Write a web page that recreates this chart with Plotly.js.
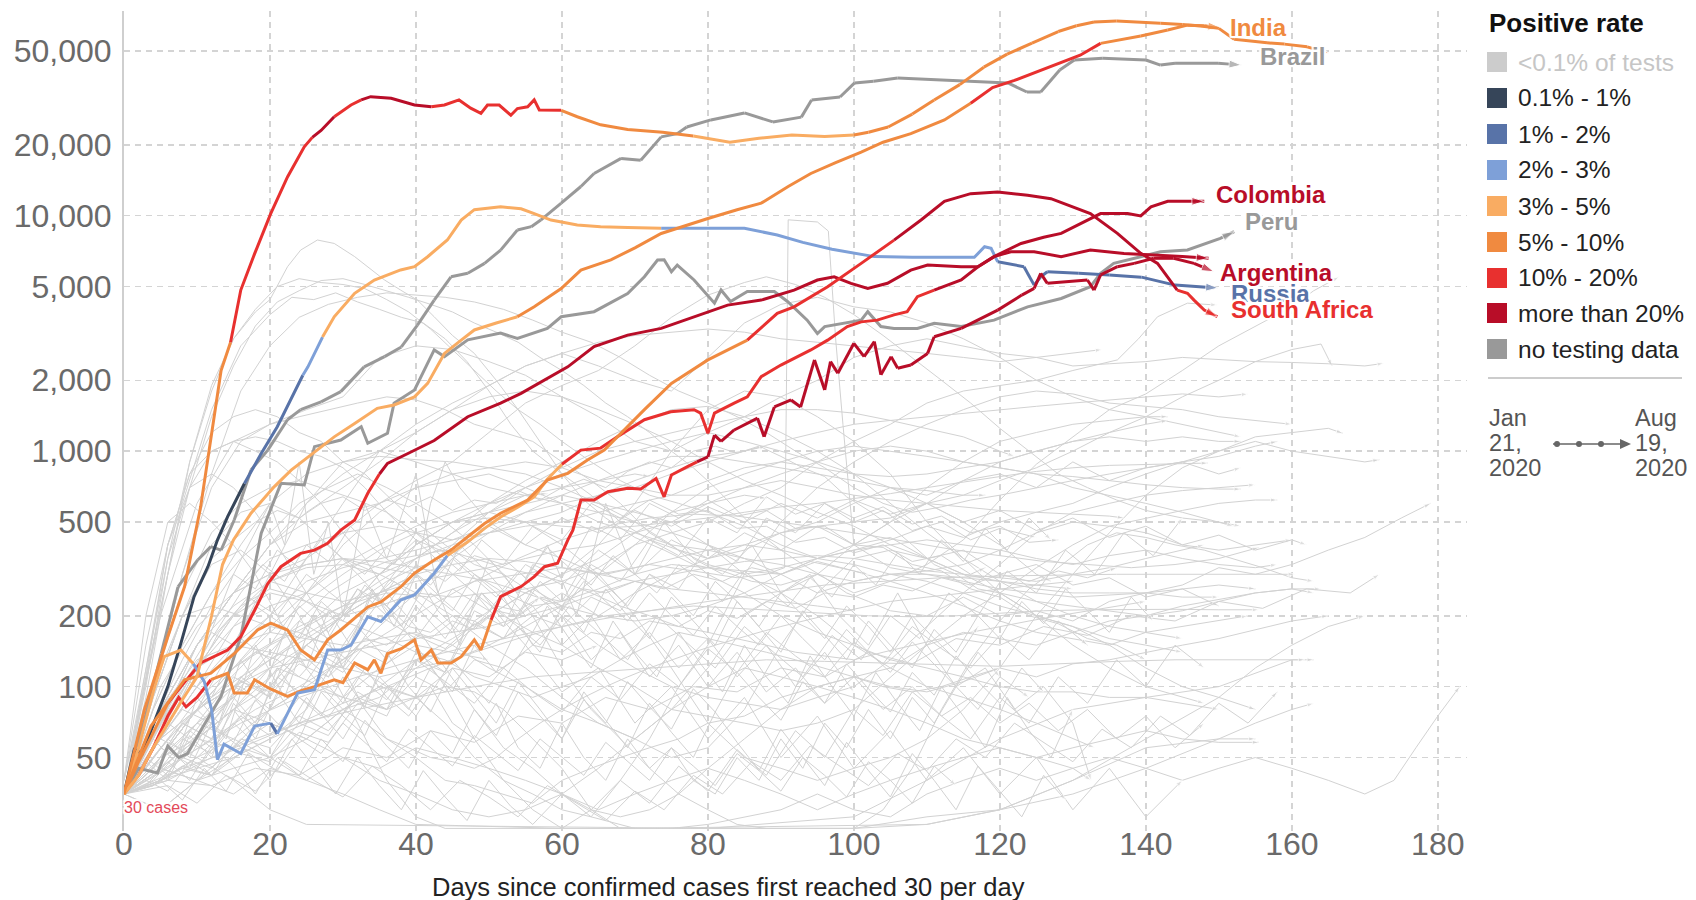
<!DOCTYPE html>
<html>
<head>
<meta charset="utf-8">
<script src="https://cdn.plot.ly/plotly-3.0.1.min.js"></script>
<style>
html,body{margin:0;padding:0;background:#fff;}
#chart{width:1696px;height:900px;}
</style>
</head>
<body>
<div id="chart"></div>
<script>
// ---------------- categories / legend ----------------
const rateCodes  = ['a','b','c','d','e','f','g','h','n'];
const rateLabels = ['&lt;0.1% of tests','0.1% - 1%','1% - 2%','2% - 3%','3% - 5%','5% - 10%','10% - 20%','more than 20%','no testing data'];
const rateColors = ['#cccccc','#364559','#5873a8','#7ea0d8','#f9ac62','#f08a40','#e8302f','#b80d28','#999999'];

const xTickVals = [0,20,40,60,80,100,120,140,160,180];
const yTickVals = [50,100,200,500,1000,2000,5000,10000,20000,50000];
const yTickText = ['50','100','200','500','1,000','2,000','5,000','10,000','20,000','50,000'];

// ---------------- highlighted countries ----------------
const usDays = [0,2.8,6,8.3,10.5,12,13.3,14.6,16,17.9,20.1,22.4,24.7,25.8,27,28.8,31.1,32.5,33.8,36.6,39.8,42.1,43.9,45.9,47.5,48.9,49.8,51.4,53,53.9,55.3,56.2,56.9,59.9,62.1,65.3,69,73.8,78,83,87,91.5,96,100,102,104.7,108,111,114.5,117.8,121,124.4,128,130.5,132.9,136,139.4,142,145,147.5,150,152.1,156.6,159,162.1,165.1];
const usCases = [35,80,163,266,580,1200,2200,2900,4830,6900,10200,14600,19600,21500,23000,26300,29500,31000,32000,31500,29500,29000,29500,31000,28600,27200,29500,29500,26700,28500,29000,31000,28100,28000,26300,24300,23200,22600,21800,20500,21300,22000,21700,22000,22600,23800,27000,31000,36000,42700,48500,54000,60500,64000,66400,67000,66400,65600,64800,63900,62400,56100,54200,53500,52100,48900];
const usRate = [[0,'f'],[14.6,'g'],[25.5,'h'],[28,'g'],[32,'h'],[41,'g'],[61,'f'],[77,'e'],[101,'f']];

const indiaDays = [0,2,4,6,8,10,12,13.5,15,17.4,20.6,22.9,26.1,28.8,31.6,34.7,37,39.8,41.6,43.9,46.2,48,51,53.9,56.2,59.9,62.6,66.7,70,73.6,77,80,84,87.3,91,94.1,97.5,101,104,107.8,112.4,116,119,122,127,131,133.8,136.5,139.3,143,145.7,148,150.2];
const indiaCases = [35,42,55,70,88,110,200,330,420,545,707,831,995,1150,1310,1520,1570,1700,1940,2600,2960,3270,3500,3720,4100,4900,5870,6490,7300,8400,9100,9730,10600,11300,13300,15100,16800,18600,20500,22300,25500,30000,35000,37500,42900,48000,53900,55800,57900,61400,64400,64000,63000];
const indiaRate = [[0,'e'],[53,'f'],[115,'g'],[133,'f']];

const brazilDays = [0,2.8,5.1,7.4,10.1,11.9,13.3,15.1,17.4,19.7,22.4,24.2,27,29.7,32.9,35.7,38,40.2,42.5,44.8,47.1,49.4,51.6,53.9,55.8,57.1,59.9,62.6,64.4,68.1,70.8,73.6,75.8,77.1,80.4,85,88.9,92.8,94.2,98.1,100.1,102.7,106,111.2,117.8,121.1,123.7,125.6,128.2,130.2,134.1,140,142,144,149.9,153.1];
const brazilCases = [35,72,138,265,345,393,380,510,831,1010,1360,1500,1620,1790,2280,2520,2770,3430,4380,5500,5690,6270,7140,8690,8980,9580,11300,13300,15100,17500,17200,21600,22300,23800,25500,27300,25000,26200,31000,31900,36600,37200,38400,37800,37200,36600,33500,33500,41500,45800,46600,45800,43600,44400,44400,43600];
const brazilRate = [[0,'n']];

const peruDays = [0,2,4.6,6,7.5,8.7,10.5,13.3,16,18.8,21.5,24.7,26.1,29.7,32.5,33.4,36.1,37,39.8,42.5,43.9,47.1,51.6,53.9,58,59.9,64.4,69,71.3,73.1,74,75,75.8,78.1,80.9,81.8,83.1,85.4,89.1,90.9,93.6,95,96,101,101.9,103.7,105.5,108.7,111,114.7,119.2,123.8,128.4,132.4,133.8,135.6,139.3,142,145.7,147.5,150.2,152.1];
const peruCases = [35,45,43,56,50,52,65,91,163,448,730,718,1045,1115,1270,1080,1190,1600,1820,2690,2520,2970,3170,3010,3320,3720,3910,4670,5500,6480,6500,5780,6170,5330,4250,4830,4320,4760,4760,4320,3600,3160,3380,3600,3910,3380,3320,3320,3490,3380,3600,4100,4450,4990,5690,6270,6690,7030,7150,7500,8000,8550];
const peruRate = [[0,'n']];

const russiaDays = [0,1.4,2.5,4.2,6,7.8,9.6,11.5,12.8,14.2,16.5,18.8,21,23.3,24.5,25.2,27.2,28.8,31.6,34.3,37.9,39.8,41.6,44.3,46.2,48,51.6,54.4,56.2,58.5,62.1,65.3,69,73.6,80,85,89.5,93,97,100,102.8,108,114.7,116.5,117.9,118.8,119.7,123.3,124.7,125.6,126.5,128.4,130.8,135,139.4,144,147,149.9];
const russiaCases = [35,54,52,72,100,153,241,323,419,527,729,977,1270,1760,2100,2280,3050,3720,4680,5330,5880,6070,6690,7880,9580,10600,10900,10700,10200,9580,9120,8980,8900,8850,8850,8830,8280,7700,7200,6920,6700,6650,6620,6650,7380,7260,6370,6070,5070,5500,5780,5750,5700,5600,5480,5070,5000,4930];
const russiaRate = [[0,'b'],[15.5,'c'],[24,'d'],[28,'e'],[72,'d'],[119.5,'c']];

const mexicoDays = [0,2,3.7,6,7.8,10.5,14.2,16,17.9,19.7,21.5,24.2,26.1,27.9,29.7,31.6,33.4,35,36.1,38.9,42.5,47.1,51.6,54.4,58.5,60.8,64.4,69,73.6,78.1,82.7,87.3,91.8,95,97.3,99.6,101.9,104.6,107.8,110.1,114.7,117,119.2,121.5,124.7,128.4,132.4,137,142,145,148.6];
const mexicoCases = [35,48,61,85,100,126,143,163,211,274,323,368,380,406,462,510,662,800,887,977,1110,1400,1600,1760,2070,2280,2780,3110,3320,3720,4170,4380,4830,5330,5500,5160,4910,5160,5870,6170,6070,6070,6700,7030,7030,6700,7150,6900,6800,6700,6600];
const mexicoRate = [[0,'f'],[5,'g'],[34.5,'h']];

const southAfricaDays = [0,3.7,8.3,11.9,15.1,18.3,20.1,22.4,24.2,26.1,27.9,29.7,33.4,35.2,37.9,39.8,42.5,44.8,47.1,49.4,51.6,55.3,58,60.8,63.5,65.8,71.3,75,80,85.4,89.5,91.8,96.4,101,105.5,109.2,112.4,116,119.7,123.8,127,132.4,136.1,139.3,141.6,142.9,144.3,145.7,146.6,148,149.8];
const southAfricaCases = [35,68,107,114,138,174,186,174,143,130,158,174,218,229,265,303,345,380,433,493,545,620,753,805,917,1010,1500,1940,2440,2960,3850,4100,4990,6270,7870,9580,11500,12400,12600,12200,11800,10200,8410,6920,6270,5500,4830,4680,4380,3970,3720];
const southAfricaRate = [[0,'f'],[84,'g'],[107,'h'],[145,'g']];

const colombiaDays = [0,2,4,5.5,7.8,9.5,11,12,12.8,13.7,16,17.9,20.1,21,23.8,26.1,27.9,29.7,31.1,33.4,35.2,37.9,39.8,42.5,44.3,47,49.4,51.6,54,56.2,58,60,62.6,65.3,67.6,71.3,74.9,78.1,79,80,80.9,83.6,85.4,87.3,90,94.1,96.4,99.1,101,103.2,105.5,107.3,108.7,111,114.7,117,119.2,122.9,126,128.4,131,133.8,137.5,139.3,140.7,143,148];
const colombiaCases = [35,55,95,134,143,125,105,80,49,57,52,68,70,63,94,97,143,143,150,198,189,233,245,303,360,410,470,525,580,640,760,880,1010,1030,1150,1360,1470,1500,1450,1190,1450,1600,1700,2070,2320,2690,2960,3380,3540,3600,3790,3910,4530,4830,5330,6070,6700,7620,8100,8410,9200,10200,10200,9970,10900,11500,11500];
const colombiaRate = [[0,'e'],[10,'d'],[19.5,'c'],[22,'d'],[44.5,'e'],[61,'g'],[110,'h']];

const argentinaDays = [0,2,4,6,7.5,8.5,10,11.9,13,14.2,15.1,16.9,17.9,20,22.4,24.2,26.1,28.8,30,31.6,33.4,34.3,35.2,36.1,38,39.8,40.7,42.1,43,44.8,46.2,48,48.9,50.3,51.6,54.4,56.2,57.6,59.4,60.8,61.5,62.6,64.4,66.3,69,70.8,72.9,74,75,77.2,78.5,80,80.9,81.8,83.6,86.8,87.7,89.1,91.4,92.7,94.6,96,96.8,97.8,100,101.4,102.8,103.7,105.1,106,107.8,110.1,111,114.7,119.7,123,124.7,125.6,126.5,130,132,132.9,133.8,136.1,138.4,141.1,143.8,146.6,149.3];
const argentinaCases = [35,42,55,75,90,82,90,107,110,114,94,94,107,98,91,96,100,107,104,126,118,130,114,138,145,158,130,143,126,126,134,158,143,192,241,266,293,323,334,419,462,620,620,672,695,690,766,640,792,859,900,946,1170,1100,1230,1380,1150,1540,1650,1540,2440,1820,2400,2140,2870,2520,2920,2110,2520,2250,2320,2600,3060,3320,3970,4600,4910,5690,5160,5250,5330,4830,5600,6070,6270,6590,6590,6270,5780];
const argentinaRate = [[0,'f'],[3,'g'],[11,'f'],[50,'g'],[78,'h']];

// ---------------- other countries (background, grey) ----------------
const bg01 = [[0,36],[3,90],[6,300],[9,900],[12,1900],[15,3000],[18,3900],[20,4400],[22.4,6070],[24.2,7140],[26.5,7880],[28.8,7620],[31.6,6700],[33.4,6070],[35.7,5330],[37.9,4830],[40.2,4380],[42.5,3720],[45,3100],[48,2600],[51,2000],[54,1500],[57,1100],[60,800],[63,620],[66,520],[70,430],[74,380],[78,330],[82,310],[86,280],[90,270],[95,300],[100,250],[105,280],[110,330],[115,420],[120,620],[125,880],[130,1150],[135,1500],[140,1750],[145,2200],[150,2800],[155,3400],[160,4100],[163,4800],[166.5,5500]];
const bg02 = [[0,40],[3,110],[6,300],[9,700],[12,1400],[15,2300],[18,3400],[21,4300],[24,4800],[27,5300],[30,5400],[33,5100],[36,4800],[39,4500],[42,4200],[45,3900],[48,3500],[51,3200],[54,2900],[57,2500],[60,2200],[63,1900],[66,1600],[69,1400],[72,1200],[75,1000],[78,850],[81,700],[84,560],[87,450],[90,380],[93,330],[96,290],[99,250],[102,230],[105,210],[110,200],[115,240],[120,200],[125,210],[130,190],[135,230],[140,250],[145,270],[150,320],[155,300],[160,330],[165,380],[170,430],[175,520],[179,600]];
const bg03 = [[0,35],[3,100],[6,350],[9,900],[12,1800],[15,3000],[18,4000],[21,5000],[24,5400],[27,5200],[30,5100],[33,4900],[36,4400],[39,3900],[42,3300],[45,2700],[48,2200],[51,1800],[54,1500],[57,1300],[60,1100],[64,900],[68,750],[72,650],[76,600],[80,550],[85,480],[90,400],[95,350],[100,380],[105,420],[110,480],[115,430],[120,500],[125,550],[130,600],[135,700],[140,800],[145,900],[150,1000],[155,1150],[160,1200],[165,1250],[167,1190]];
const bg04 = [[0,35],[4,150],[8,600],[12,1500],[16,2800],[20,3800],[23,4500],[26,4400],[29,4700],[32,4300],[35,4000],[38,3700],[41,3500],[44,3000],[47,2400],[50,1800],[53,1300],[56,1000],[60,800],[64,650],[68,500],[72,420],[76,380],[80,350],[85,380],[90,450],[95,480],[100,500],[105,520],[110,600],[115,650],[120,750],[125,850],[130,1000],[135,1200],[140,1400],[145,1700],[150,2000],[155,2400],[160,2700],[164,2850],[165.5,2300]];
const bg05 = [[0,35],[4,100],[8,300],[12,800],[16,1800],[20,2800],[24,3700],[28,4200],[32,4500],[36,4700],[40,4600],[44,4500],[48,4300],[52,4000],[56,3600],[60,3200],[64,2900],[68,2500],[72,2100],[76,1800],[80,1600],[84,1400],[88,1200],[92,1000],[96,850],[100,700],[104,600],[108,550],[112,580],[116,620],[120,650],[125,700],[130,750],[135,800],[140,850],[145,900],[150,950],[155,1050],[158,1100]];
const bg06 = [[0,40],[5,200],[10,600],[15,1100],[20,1300],[25,1500],[30,1700],[35,2500],[40,2800],[45,2700],[50,2400],[55,2100],[60,1700],[65,1400],[70,1100],[75,1000],[80,1200],[85,1400],[90,1700],[95,2000],[100,2500],[105,2800],[110,3000],[115,2800],[120,2600],[125,2500],[130,2300],[135,2350],[140,2400],[145,2500],[150,2450],[155,2400],[160,2380],[165,2350],[170,2300],[172.6,2360]];
const bg07 = [[0,35],[5,80],[10,120],[15,150],[20,200],[25,350],[30,600],[35,1000],[40,1300],[45,1600],[50,1900],[55,2300],[60,2600],[65,2300],[70,2000],[75,1800],[80,2500],[85,3500],[90,4200],[95,4500],[100,4100],[105,3900],[110,3500],[115,3000],[120,2500],[125,2000],[130,1700],[135,1500],[140,1400],[145,1300],[150,1200],[153,1150]];
const bg08 = [[0,35],[5,100],[10,180],[15,250],[20,300],[25,350],[30,450],[35,600],[40,750],[45,900],[50,1200],[55,1600],[60,1900],[65,2200],[70,2800],[75,3700],[80,4600],[85,5200],[88,5500],[92,5100],[96,4500],[100,3800],[104,3100],[108,2500],[112,2000],[116,1600],[120,1250],[124,1000],[128,800],[132,700],[136,620],[140,560],[145,520],[150,500],[153,480]];
const bg09 = [[0,35],[6,60],[12,90],[18,140],[24,180],[30,220],[36,250],[42,240],[48,280],[54,300],[60,320],[66,300],[72,330],[78,310],[84,290],[88,300],[90.5,320],[91,9600],[95,9400],[96.5,8600],[97.5,3000],[98.5,1300],[100,400],[105,320],[110,300],[115,280],[120,260],[130,240],[140,250],[150,270],[155,260]];
const bg10 = [[0,40],[3,120],[6,350],[9,700],[12,1000],[15,1100],[18,1150],[21,1100],[24,1000],[27,950],[30,850],[33,700],[36,550],[40,420],[44,320],[48,250],[52,200],[56,170],[60,150],[65,120],[70,100],[75,80],[80,75],[85,70],[90,65],[95,70],[100,80],[105,110],[110,150],[115,200],[120,250],[125,320],[130,400],[135,480],[140,520],[145,560],[150,600],[155,620],[158,620]];
const bg11 = [[0,40],[3,150],[6,400],[9,800],[12,1200],[15,1400],[18,1500],[21,1400],[24,1200],[27,1100],[30,900],[33,800],[36,650],[40,500],[44,400],[48,330],[52,300],[56,250],[60,200],[65,150],[70,120],[75,100],[80,90],[85,85],[90,80],[95,90],[100,100],[105,130],[110,180],[115,250],[120,330],[125,450],[130,500],[135,480],[140,450],[145,400],[150,380],[155,400],[160,420]];
const bg12 = [[0,35],[4,100],[8,300],[12,700],[16,1100],[20,1300],[24,1400],[28,1500],[32,1600],[36,1700],[40,1650],[44,1500],[48,1300],[52,1200],[56,1100],[60,900],[64,750],[68,600],[72,450],[76,380],[80,330],[85,300],[90,320],[95,350],[100,380],[105,400],[110,420],[115,400],[120,380],[125,350],[130,330],[135,360],[140,380],[145,350],[150,330],[155,320],[158,330]];
const bg13 = [[0,35],[3,110],[6,400],[9,800],[12,1000],[15,1100],[18,1000],[21,900],[24,750],[27,600],[30,450],[33,350],[36,250],[40,180],[44,120],[48,80],[52,55],[56,45],[60,35],[64,30],[68,28],[72,30],[76,35],[80,45],[85,60],[90,80],[95,100],[100,110],[105,120],[110,150],[115,170],[120,160],[125,150],[130,170],[135,190],[140,200],[145,210],[150,230],[155,250],[160,260],[164,260]];
const bg14 = [[0,35],[3,120],[6,400],[9,700],[12,800],[15,700],[18,550],[21,400],[24,280],[27,200],[30,120],[33,80],[36,60],[40,50],[44,40],[48,38],[52,35],[56,32],[60,40],[64,45],[68,50],[72,55],[76,60],[80,70],[85,75],[90,90],[95,100],[100,110],[105,100],[110,95],[115,105],[120,120],[125,110],[130,125],[135,130],[140,140],[145,150],[150,160],[155,175],[160,190],[165,200]];
const bg15 = [[0,35],[4,90],[8,200],[12,350],[15,420],[18,500],[21,560],[24,520],[27,600],[30,640],[33,560],[36,620],[39,580],[42,640],[45,560],[48,620],[51,600],[54,680],[57,620],[60,700],[63,760],[66,700],[69,820],[72,900],[75,850],[78,1000],[81,1050],[84,980],[87,1050],[90,950],[93,850],[96,780],[99,640],[102,560],[105,480],[108,400],[111,330],[114,300],[117,260],[120,250],[125,230],[130,220],[135,210],[140,200],[145,220],[150,235],[155,250],[160,260],[163,250]];
const bg16 = [[0,35],[4,100],[8,250],[12,450],[16,600],[20,700],[24,750],[28,680],[32,620],[36,550],[40,450],[44,380],[48,300],[52,250],[56,220],[60,230],[65,260],[70,300],[75,330],[80,320],[85,310],[90,300],[95,340],[100,310],[105,280],[110,250],[115,220],[120,190],[125,170],[130,160],[135,150],[140,170],[145,180],[150,190],[154,200]];
const bg17 = [[0,35],[4,90],[8,200],[12,400],[16,550],[20,600],[24,520],[28,400],[32,300],[36,220],[40,150],[44,100],[48,60],[52,40],[56,30],[60,25],[64,30],[68,40],[72,60],[76,100],[80,150],[85,300],[90,500],[95,700],[100,900],[105,1100],[110,1300],[115,1500],[120,1700],[125,1800],[130,1750],[135,1600],[140,1550],[145,1500],[150,1400],[155,1350],[160,1300]];
const bg18 = [[0,35],[4,80],[8,150],[12,250],[16,350],[20,450],[24,600],[28,700],[32,800],[36,700],[40,600],[44,500],[48,400],[52,300],[56,200],[60,120],[64,80],[68,60],[72,45],[76,35],[80,30],[84,26],[88,25],[100,25],[110,26],[120,30],[130,40],[140,55],[150,60],[155,60]];
const bg19 = [[0,35],[5,45],[10,40],[15,50],[20,60],[25,80],[30,150],[35,250],[40,400],[45,500],[50,550],[55,500],[60,400],[65,300],[70,200],[75,120],[80,70],[85,50],[90,45],[95,40],[100,45],[105,50],[110,60],[115,80],[120,120],[125,200],[130,300],[135,450],[140,650],[145,850],[150,1000],[155,1100],[160,1000],[165,950],[170,900],[172,920]];
const bg20 = [[0,40],[3,200],[6,500],[9,600],[12,500],[15,400],[18,300],[21,200],[24,130],[27,100],[30,90],[33,85],[36,80],[40,90],[44,100],[48,95],[52,80],[56,60],[60,45],[64,30],[68,25],[75,25],[80,26],[90,30],[95,35],[100,30],[105,28],[110,35],[115,40],[120,45],[125,40],[130,45],[135,50],[140,45],[145,40],[150,45],[155,50],[160,45],[165,40],[170,35],[174,40],[177,55],[180,75],[183,100]];
const bg21 = [[0,35],[4,90],[8,200],[12,330],[16,380],[20,300],[24,200],[28,120],[32,70],[36,40],[40,28],[44,25],[100,25],[104,30],[108,45],[112,80],[116,130],[120,190],[124,260],[128,320],[132,400],[136,450],[140,430],[144,400],[148,380],[152,350],[156,320],[160,290],[163,280]];
const bg22 = [[0,35],[4,100],[8,200],[12,220],[16,200],[20,180],[24,170],[28,150],[32,120],[36,100],[40,90],[44,70],[48,50],[52,40],[56,35],[60,30],[64,28],[70,25],[110,26],[120,30],[130,35],[140,45],[150,60],[155,70],[160,80],[163,85]];
const bg23 = [[0,35],[5,60],[10,120],[15,200],[20,280],[25,330],[30,350],[35,320],[40,300],[45,330],[50,350],[55,340],[60,320],[65,300],[70,320],[75,350],[80,380],[85,400],[90,380],[95,350],[100,330],[105,300],[110,310],[115,330],[120,380],[125,450],[130,550],[135,600],[140,650],[145,680],[150,700],[155,720]];
const bg24 = [[0,35],[5,70],[10,150],[15,250],[20,350],[25,400],[30,450],[35,480],[40,450],[45,420],[50,450],[55,480],[60,500],[65,550],[70,600],[75,650],[80,750],[85,850],[90,900],[95,850],[100,800],[105,780],[110,800],[115,850],[120,900],[125,1000],[130,1100],[135,1200],[140,1300],[143,1350]];
const bg25 = [[0,35],[5,60],[10,100],[15,140],[20,200],[25,280],[30,320],[35,350],[40,380],[45,420],[50,480],[55,550],[60,600],[65,650],[70,700],[75,800],[80,900],[85,1000],[90,1100],[95,1200],[100,1300],[105,1350],[110,1400],[115,1450],[120,1500],[125,1550],[130,1600],[135,1650],[140,1700],[145,1750],[150,1700],[154,1750]];
const bg26 = [[0,35],[5,70],[10,120],[15,200],[20,250],[25,230],[30,200],[35,220],[40,250],[45,240],[50,250],[55,260],[60,280],[65,320],[70,400],[75,450],[80,500],[85,600],[90,700],[95,900],[100,1100],[105,1300],[110,1600],[115,1800],[120,1900],[125,2000],[130,2200],[136.1,2440],[139,3000],[141.6,3720],[145.7,4250],[149.8,4170]];
const bg27 = [[0,35],[5,80],[10,150],[15,250],[20,400],[25,550],[30,700],[35,900],[40,1200],[45,1500],[50,1900],[55,2300],[60,2600],[65,2900],[70,3100],[75,3200],[80,3300],[85,3200],[90,3000],[95,2900],[100,2800],[105,2700],[110,2600],[115,2500],[120,2400],[125,2500],[130,2600],[134,2700]];
const bg28 = [[0,35],[5,50],[10,80],[15,120],[20,150],[25,180],[30,220],[35,280],[40,350],[45,450],[50,600],[55,750],[60,900],[65,1100],[70,1300],[75,1500],[80,1550],[85,1400],[90,1200],[95,1000],[100,800],[105,600],[110,450],[115,350],[120,280],[125,230],[130,200],[135,180],[140,170],[145,160]];
const bg29 = [[0,35],[5,80],[10,150],[15,250],[20,400],[25,600],[30,800],[35,1000],[40,1200],[45,1500],[50,1700],[55,1800],[60,1700],[65,1500],[70,1300],[75,1100],[80,900],[85,750],[90,650],[95,550],[100,480],[105,400],[110,350],[115,300],[120,280],[125,270],[130,260]];
const bg30 = [[0,35],[4,80],[8,150],[12,250],[16,400],[20,600],[22,400],[24,900],[26,300],[28,500],[30,200],[33,600],[36,350],[40,800],[43,250],[46,400],[50,300],[55,200],[60,250],[65,200],[70,250],[75,300],[80,350],[85,400],[90,450],[95,500],[100,600],[105,700],[110,650],[115,750],[120,800],[125,700],[130,900],[135,750],[140,850],[145,900],[150,800],[153,850]];
const bg31 = [[0,35],[5,70],[10,120],[15,180],[20,220],[25,250],[30,230],[35,250],[40,280],[45,300],[50,320],[55,350],[60,380],[65,400],[70,450],[75,500],[80,600],[85,700],[90,800],[95,900],[100,1000],[105,1050],[110,1000],[115,900],[120,850],[125,800],[130,700],[135,650],[140,600],[145,550],[150,500],[152,480]];
const bg32 = [[0,35],[5,80],[10,130],[15,150],[20,140],[25,130],[30,120],[35,110],[40,120],[45,130],[50,150],[55,180],[60,220],[65,300],[70,400],[75,550],[80,700],[85,800],[90,900],[95,1000],[100,1050],[105,1000],[110,950],[115,900],[120,850],[125,800],[130,780],[135,750],[140,720],[145,700],[150,690],[153,690]];
const bg33 = [[0,35],[5,45],[10,60],[15,80],[20,110],[25,150],[30,200],[35,250],[40,300],[45,400],[50,550],[55,700],[60,850],[65,1000],[70,1100],[75,1200],[80,1300],[85,1400],[90,1500],[95,1500],[100,1450],[105,1350],[110,1250],[115,1150],[120,1000],[122,950]];
const bg34 = [[0,35],[5,40],[10,50],[15,60],[20,80],[25,100],[30,130],[35,180],[40,250],[45,350],[50,450],[55,550],[60,650],[65,750],[70,850],[75,950],[80,950],[85,900],[90,850],[95,800],[100,750],[105,700],[110,680],[115,650],[118,650]];
const bg35 = [[0,35],[4,38],[8,45],[12,42],[16,55],[20,50],[24,70],[28,62],[32,95],[36,80],[40,140],[44,115],[48,190],[52,160],[56,260],[60,220],[64,330],[68,280],[72,420],[76,360],[80,520],[84,450],[88,640],[92,540],[96,600],[100,500],[104,560],[108,460],[112,500],[116,420],[120,470],[125,430]];
const bg36 = [[0,35],[5,40],[10,45],[15,50],[20,60],[25,70],[30,80],[35,90],[40,120],[45,150],[50,200],[55,250],[60,300],[65,400],[70,600],[75,1000],[80,1500],[85,1800],[90,1700],[95,1400],[100,1100],[105,800],[110,500],[115,350],[120,250],[125,200],[130,180],[135,160],[140,150],[145,140]];
const bg37 = [[0,35],[5,80],[10,150],[15,250],[20,300],[25,330],[30,350],[35,340],[40,320],[45,300],[50,280],[55,250],[60,220],[65,200],[70,190],[75,200],[80,220],[85,250],[90,300],[95,350],[100,400],[105,500],[110,600],[115,750],[120,900],[125,1000],[130,1100],[135,1150],[140,1100],[145,1150],[150,1100],[153,1100]];
const bg38 = [[0,35],[5,70],[10,150],[15,220],[20,280],[25,320],[30,330],[35,300],[40,250],[45,200],[50,150],[55,120],[60,90],[65,70],[70,60],[75,50],[80,55],[85,80],[90,150],[95,250],[100,350],[105,380],[110,350],[115,300],[120,250],[125,200],[130,150],[135,120],[140,100],[145,90],[148,85]];
const bg39 = [[0,35],[5,60],[10,100],[15,150],[20,170],[25,160],[30,150],[35,160],[40,170],[45,150],[50,120],[55,100],[60,80],[65,70],[70,60],[75,80],[80,120],[85,200],[90,250],[95,300],[100,400],[105,500],[110,700],[115,900],[120,1100],[125,1200],[130,1300],[135,1350],[140,1400],[143,1400]];
const bg40 = [[0,35],[4,55],[8,80],[12,70],[16,105],[20,95],[24,125],[28,110],[32,145],[36,125],[40,165],[44,145],[48,185],[52,160],[56,200],[60,180],[64,240],[68,210],[72,300],[76,260],[80,400],[84,340],[88,520],[92,450],[96,600],[100,520],[104,580],[108,490],[112,530],[116,450],[120,480],[124,410],[128,420]];
const bg41 = [[0,35],[4,45],[8,70],[12,60],[16,110],[20,90],[24,190],[28,160],[32,260],[36,220],[40,330],[44,280],[48,360],[52,330],[56,480],[60,420],[64,600],[68,520],[72,620],[76,540],[80,560],[84,470],[88,480],[92,410],[96,430],[100,370],[104,400],[108,340],[112,360],[116,300],[118,320]];
const bg42 = [[0,35],[5,50],[10,80],[14,60],[18,150],[22,90],[26,200],[30,120],[34,250],[38,180],[42,300],[46,150],[50,350],[54,250],[58,400],[62,200],[66,600],[70,300],[74,500],[78,350],[82,300],[86,400],[90,250],[94,300],[98,200],[102,150],[106,250],[110,150],[114,100],[118,120],[122,80],[126,100],[130,70],[132.5,40]];
const bg43 = [[0,35],[5,30],[10,40],[15,45],[20,50],[25,60],[30,80],[35,100],[40,130],[45,160],[50,200],[55,250],[60,300],[65,350],[70,450],[75,550],[80,600],[85,650],[88,630]];
const bg44 = [[0,35],[5,50],[10,70],[15,90],[20,120],[25,150],[30,200],[35,250],[40,350],[45,450],[50,550],[55,650],[60,700],[65,750],[70,800],[72,780]];
const bg45 = [[0,35],[5,50],[10,60],[15,80],[20,120],[25,180],[30,250],[35,300],[40,350],[45,400],[50,450],[55,500],[60,550],[65,650],[70,750],[75,850],[80,950],[85,1000],[88,1050]];
const bg46 = [[0,35],[5,50],[10,80],[15,120],[20,180],[25,250],[30,330],[35,400],[40,480],[45,550],[50,600],[55,650],[58,660]];
const bg47 = [[0,35],[5,50],[10,80],[15,100],[20,130],[25,160],[30,200],[35,250],[40,300],[42,600],[44,900],[46,700],[50,500],[55,400],[60,350],[65,300],[70,280],[75,260],[80,250],[85,240],[90,230],[95,220],[100,210]];
const bg48 = [[0,35],[5,60],[10,120],[15,300],[20,600],[25,800],[30,900],[35,950],[40,920],[45,900],[50,850],[55,800],[60,700],[65,600],[70,500],[75,400],[80,300],[85,250],[90,200],[95,170],[100,150],[105,130],[110,120],[115,110],[120,100],[125,95],[130,95],[135,90],[140,90],[145,85],[150,80]];
const bg49 = [[0,35],[5,50],[10,80],[15,150],[20,300],[25,600],[30,900],[35,1000],[40,900],[45,800],[50,700],[55,650],[60,600],[65,550],[70,500],[75,450],[80,400],[85,350],[90,300],[95,250],[100,280],[105,300],[110,280],[115,250],[120,220],[125,200],[130,180],[135,150],[140,120],[145,100],[150,90],[155,80]];
const bg50 = [[0,35],[5,60],[10,80],[15,100],[20,150],[25,250],[30,400],[35,550],[40,700],[45,800],[50,850],[55,900],[60,850],[65,750],[70,700],[75,650],[80,650],[85,700],[90,750],[95,700],[100,650],[105,620],[110,600],[115,580],[120,560],[125,550],[130,540],[135,530],[137,520]];
const bg51 = [[0,35],[5,80],[10,150],[15,250],[20,400],[25,500],[30,550],[35,600],[40,700],[45,750],[50,800],[55,700],[60,600],[65,500],[70,450],[75,400],[80,380],[85,350],[90,330],[95,300],[100,280],[105,300],[110,300],[115,290],[120,280],[125,260],[130,250],[135,250],[140,250],[145,240],[150,240]];
const bg52 = [[0,35],[5,45],[10,60],[15,80],[20,100],[25,150],[30,200],[35,300],[40,400],[45,500],[50,600],[55,700],[60,800],[65,900],[70,1000],[75,1100],[80,1200],[85,1100],[90,1000],[95,900],[100,800],[105,700],[110,600],[115,500],[120,400],[125,300],[127,280]];
const bg53 = [[0,35],[4,38],[8,46],[12,42],[16,52],[20,48],[24,64],[28,58],[32,85],[36,75],[40,130],[44,115],[48,210],[52,180],[56,330],[60,290],[64,480],[68,420],[72,600],[76,520],[80,620],[84,530],[88,560],[92,470],[96,480],[100,400],[104,390],[108,330],[112,310],[116,260],[120,240],[124,200],[128,185],[132,160],[136,150],[140,130]];
const bg54 = [[0,35],[5,60],[10,80],[15,100],[20,120],[25,130],[30,140],[35,150],[40,160],[45,170],[50,180],[55,200],[60,220],[65,250],[70,280],[75,300],[80,320],[85,340],[90,350],[95,360],[100,350],[105,330],[110,310],[115,300],[120,290],[125,280],[130,300],[135,320],[140,350],[145,380],[148,400]];
const bg55 = [[0,35],[5,40],[10,50],[15,70],[20,100],[25,150],[30,200],[35,300],[40,400],[45,500],[50,550],[55,600],[60,650],[65,600],[70,550],[75,500],[80,400],[85,300],[90,250],[95,200],[100,150],[105,120],[110,100],[115,90],[120,80],[125,70],[130,60],[133,55]];
const bg56 = [[0,35],[4,50],[8,70],[12,90],[16,110],[20,130],[24,160],[28,190],[32,230],[36,280],[40,320],[44,350]];
const bg57 = [[0,35],[5,40],[10,60],[15,55],[20,80],[25,100],[30,90],[35,120],[40,150],[45,140],[50,130]];
const bg58 = [[0,35],[5,45],[10,40],[15,55],[20,70],[25,60],[30,80],[35,100],[40,90],[45,120],[50,110],[55,140],[60,130],[65,150]];
const bg59 = [[0,35],[5,30],[10,40],[15,35],[20,45],[25,40],[30,50],[35,45],[40,55],[45,50],[50,45],[55,40],[60,35],[65,30],[70,35],[75,40],[80,45],[85,40],[90,35],[95,30],[100,35],[105,40],[110,45],[115,50],[120,55],[125,50],[130,45],[132.5,40]];
const bg60 = [[0,35],[5,45],[10,60],[15,80],[20,70],[25,60],[30,50],[35,40],[40,35],[45,30],[50,28],[55,30],[60,35],[65,45],[70,60],[75,80],[80,100],[85,120],[90,110],[95,100],[100,90],[105,80],[110,70],[115,60],[120,55],[125,50],[130,55],[135,60],[140,65],[145,60],[150,58],[155.5,58]];
const bg61 = [[0,35],[5,50],[10,70],[15,60],[20,50],[25,40],[30,35],[35,30],[40,26],[60,25],[100,25],[110,28],[120,30],[130,40],[140,60],[150,90],[155,120],[160,150],[165,180],[170,200]];
const bg62 = [[0,35],[5,60],[10,50],[15,40],[20,30],[25,26],[80,25],[100,28],[110,40],[120,60],[130,80],[140,90],[150,100],[160,130],[163,130]];
const bg63 = [[0,35],[3,50],[6,70],[9,60],[12,80],[15,100],[18,90],[21,120],[24,110],[27,140],[30,130],[33,160],[36,150],[39,180],[42,170],[45,200],[48,190],[51,220],[54,210],[57,240],[60,230],[63,260],[66,250],[70,280],[74,260],[78,300],[82,280],[86,320],[90,300],[94,340],[98,320],[102,300]];
const bg64 = [[0,35],[4,60],[8,100],[12,160],[16,220],[20,260],[24,240],[28,200],[32,180],[36,160],[40,140],[44,130],[48,110],[52,100],[56,90],[60,100],[64,110],[68,130],[72,150],[76,170],[80,160],[84,150],[88,140],[92,130],[96,120],[100,110],[104,100],[108,95],[112,100],[116,110],[120,120]];
const bg65 = [[0,35],[4,40],[8,55],[12,70],[16,100],[20,140],[24,190],[28,250],[32,300],[36,340],[40,360],[44,380],[48,350],[52,320],[56,300],[60,280],[64,250],[68,220],[72,200],[76,180],[80,170],[84,160],[88,150],[92,140],[96,135],[100,130],[104,140],[108,150],[112,160],[116,170],[120,180],[124,190],[128,200],[132,210],[136,220],[140,230]];
const bg66 = [[0,35],[3,45],[6,60],[9,80],[12,100],[15,120],[18,140],[21,130],[24,110],[27,100],[30,80],[33,70],[36,60],[39,55],[42,50],[45,48],[48,45],[51,50],[54,60],[57,70],[60,80],[63,90],[66,100],[69,110],[72,120],[75,130],[78,140],[81,150],[84,160],[87,170],[90,180],[93,190],[96,200],[99,210],[102,220],[105,230],[110,240],[115,250],[120,260],[125,270],[130,280]];
const bg67 = [[0,35],[5,50],[10,80],[15,120],[20,170],[25,230],[30,300],[35,380],[40,450],[45,500],[50,520],[55,500],[60,480],[65,470],[70,480],[75,500],[80,520],[85,550],[90,580],[95,600],[100,630],[105,660],[110,700],[115,740],[120,780],[125,820],[130,850],[135,870],[140,880],[145,885],[148.5,890]];
const bg68 = [[0,35],[6,45],[12,60],[18,80],[24,100],[30,130],[36,170],[42,220],[48,280],[54,350],[60,420],[66,480],[72,520],[78,540],[84,530],[90,500],[96,470],[102,440],[108,410],[114,380],[120,360],[126,340],[132,330],[138,320],[144,330],[150,350],[155.5,390]];
const bg69 = [[0,35],[6,40],[12,50],[18,60],[24,70],[30,85],[36,100],[42,120],[48,140],[54,160],[60,180],[66,200],[72,210],[78,220],[84,215],[90,210],[96,205],[102,200],[108,198],[114,200],[120,205],[126,210],[132,212],[138,213],[144,213],[150,212],[155.5,212]];
const bg70 = [[0,35],[8,50],[16,70],[24,90],[32,110],[40,130],[48,150],[56,170],[64,190],[72,210],[80,230],[88,250],[96,270],[104,280],[112,290],[120,295],[128,298],[136,300],[144,300],[152,300],[160.4,300]];
const bg71 = [[0,35],[8,45],[16,55],[24,70],[32,80],[40,90],[48,100],[56,110],[64,115],[72,120],[80,125],[88,130],[96,128],[104,126],[112,124],[120,122],[128,125],[136,128],[144,130],[152,130],[161.8,130]];
const bg72 = [[0,35],[3,50],[6,42],[9,65],[12,55],[15,80],[18,60],[21,95],[24,70],[27,110],[30,85],[33,120],[36,90],[39,75],[42,100],[45,70],[48,60],[51,85],[54,55],[57,45],[60,70],[63,50],[66,40],[69,60],[72,45],[75,55],[78,40],[81,35],[84,50],[87,40],[90,60],[93,45],[96,70],[99,55],[102,80],[105,60],[108,90],[111,70],[114,100],[117,80],[120,110],[124,90]];
const bg73 = [[0,35],[4,60],[8,110],[12,90],[16,160],[20,130],[24,220],[28,170],[32,260],[36,200],[40,300],[44,230],[48,180],[52,240],[56,150],[60,200],[64,130],[68,170],[72,110],[76,150],[80,100],[84,140],[88,95],[92,120],[96,85],[100,110],[104,80],[108,100],[112,75],[116,90],[120,70],[124,85],[128,65],[132,80],[136,60],[140,75],[144,55],[148,70]];
const bg74 = [[0,35],[5,45],[10,70],[15,110],[20,90],[25,150],[30,120],[35,200],[40,160],[45,260],[50,210],[55,330],[60,270],[65,380],[70,300],[75,420],[80,350],[85,450],[90,380],[95,480],[100,400],[105,430],[110,350],[115,380],[120,300],[125,330],[130,270],[135,290],[140,240],[145,260],[150,220]];
const bg75 = [[0,35],[3,45],[6,60],[9,50],[12,75],[15,90],[18,70],[21,110],[24,95],[27,130],[30,115],[33,150],[36,140],[39,170],[42,160],[45,190],[48,175],[51,210],[54,200],[57,240]];
const bg76 = [[0,35],[4,38],[8,50],[12,45],[16,60],[20,55],[24,75],[28,65],[32,90],[36,80],[40,110],[44,95],[48,130],[52,120],[56,150],[60,140],[64,170],[68,160],[72,190],[76,180],[80,210],[84,195],[88,230],[92,215],[96,250],[100,240],[104,270],[108,255],[112,290],[116,270],[120,300],[124,280],[128,310],[132,290],[136,320]];
const bg77 = [[0,35],[5,60],[10,100],[15,180],[20,280],[25,250],[30,350],[35,300],[40,420],[45,360],[50,480],[55,400],[60,520],[65,450],[70,560],[75,480],[80,580],[85,500],[90,600],[95,520],[100,620],[105,540],[110,600],[115,500],[120,560],[125,460],[130,520],[135,430],[140,480],[145,400],[150,440],[155,380],[160,420],[162,400]];
const bg78 = [[0,35],[5,55],[10,45],[15,70],[20,50],[25,90],[30,60],[35,110],[40,75],[45,130],[50,85],[55,150],[60,95],[65,120],[70,70],[75,100],[80,60],[85,90],[90,50],[95,75],[100,45],[105,65],[110,40],[115,55],[120,35],[125,50],[130,30],[135,45],[140,28],[145,40]];
const bg79 = [[0,35],[4,45],[8,70],[12,60],[16,100],[20,80],[24,140],[28,110],[32,180],[36,130],[40,220],[44,160],[48,250],[52,180],[56,220],[60,150],[64,200],[68,130],[72,170],[76,120],[80,160],[84,110],[88,150],[92,100],[96,140],[100,95]];
const bg80 = [[0,35],[6,40],[12,38],[18,45],[24,42],[30,55],[36,50],[42,65],[48,58],[54,75],[60,70],[66,90],[72,80],[78,100],[84,95],[90,120],[96,110],[102,140],[108,125],[114,160],[120,150],[126,180],[132,165],[138,200],[144,190],[150,230],[156,215],[162,260],[168,250],[172,300]];
const bg81 = [[0,35],[3,48],[6,40],[9,62],[12,50],[15,85],[18,66],[21,120],[24,90],[27,75],[30,110],[33,82],[36,140],[39,100],[42,78],[45,120],[48,92],[51,70],[54,105],[57,80],[60,60],[63,95],[66,72],[69,55],[72,85],[75,64],[78,50],[81,78],[84,58],[87,44],[90,66],[93,50],[96,38],[99,58],[102,44],[105,34],[108,52],[111,40],[114,30],[117,46],[120,36],[123,28],[126,42],[129,33]];
const bg82 = [[0,35],[4,60],[7,48],[10,90],[13,70],[16,130],[19,95],[22,170],[25,120],[28,210],[31,150],[34,260],[37,180],[40,300],[43,210],[46,170],[49,250],[52,190],[55,150],[58,220],[61,160],[64,120],[67,190],[70,140],[73,110],[76,170],[79,125],[82,95],[85,150],[88,110],[91,85],[94,135],[97,100],[100,75],[103,115],[106,85],[109,65],[112,100],[115,75],[118,55],[121,90],[124,65],[127,50],[130,80]];
const bg83 = [[0,35],[3,42],[6,55],[9,45],[12,70],[15,58],[18,88],[21,70],[24,60],[27,95],[30,75],[33,62],[36,100],[39,80],[42,120],[45,95],[48,150],[51,115],[54,180],[57,140],[60,220],[63,170],[66,260],[69,200],[72,160],[75,240],[78,190],[81,150],[84,230],[87,180],[90,140],[93,210],[96,165],[99,130],[102,190],[105,150],[108,120],[111,175],[114,140],[117,200],[120,160],[123,230],[126,185],[129,260],[132,210],[135,170],[138,240],[141,190]];
const bg84 = [[0,35],[5,40],[8,33],[11,45],[14,36],[17,52],[20,40],[23,60],[26,46],[29,35],[32,50],[35,38],[38,30],[41,44],[44,34],[47,27],[50,40],[53,31],[56,26],[60,35],[64,28],[68,40],[72,32],[76,46],[80,36],[84,54],[88,42],[92,65],[96,50],[100,80],[104,62],[108,95],[112,75],[116,60],[120,90],[124,70],[128,110],[132,85],[136,130],[140,100],[144,150],[148,120]];
const bg85 = [[0,35],[4,70],[8,130],[12,220],[15,300],[18,260],[21,380],[24,320],[27,420],[30,350],[33,300],[36,390],[39,320],[42,270],[45,350],[48,290],[51,240],[54,310],[57,250],[60,210],[63,280],[66,230],[69,190],[72,250],[75,200],[78,165],[81,220],[84,180],[87,150],[90,200],[93,160],[96,130],[99,175],[102,140],[105,115],[108,155],[111,125],[114,100],[117,140],[120,110]];
const bg86 = [[0,35],[3,38],[6,48],[9,40],[12,56],[15,46],[18,35],[21,50],[24,42],[27,60],[30,48],[33,72],[36,56],[39,45],[42,65],[45,52],[48,80],[51,62],[54,95],[57,75],[60,60],[63,88],[66,70],[69,105],[72,82],[75,66],[78,98],[81,78],[84,115],[87,90],[90,72],[93,105],[96,85],[99,125],[102,98],[105,78],[108,115],[111,92],[114,135],[117,105],[120,85],[123,120],[126,95]];
const bg87 = [[0,35],[4,55],[8,95],[12,160],[16,250],[19,330],[22,280],[25,400],[28,340],[31,480],[34,390],[37,330],[40,450],[43,370],[46,310],[49,420],[52,350],[55,290],[58,390],[61,320],[64,270],[67,360],[70,300],[73,250],[76,330],[79,280],[82,230],[85,310],[88,260],[91,220],[94,290],[97,240],[100,330],[103,270],[106,370],[109,300],[112,420],[115,340],[118,470],[121,380],[124,520],[127,420]];
const bg88 = [[0,35],[3,40],[6,36],[9,48],[12,42],[15,58],[18,50],[21,44],[24,60],[27,52],[30,70],[33,58],[36,48],[39,66],[42,55],[45,46],[48,62],[51,52],[54,44],[57,60],[60,50],[63,42],[66,58],[69,48],[72,40],[75,55],[78,46],[81,38],[84,52],[87,44],[90,36],[93,50],[96,42],[99,34],[102,48],[105,40],[108,32],[111,46],[114,38]];
const bg89 = [[0,35],[5,60],[9,100],[13,170],[17,240],[21,200],[25,300],[29,240],[33,190],[37,280],[41,220],[45,170],[49,250],[53,190],[57,150],[61,220],[65,170],[69,130],[73,200],[77,155],[81,120],[85,180],[89,140],[93,110],[97,165],[101,130],[105,200],[109,160],[113,250],[117,200],[121,310],[125,250],[129,380],[133,300],[137,450],[141,360],[145,520]];
const bg90 = [[0,35],[4,45],[8,60],[12,52],[16,75],[20,62],[24,90],[28,74],[32,110],[36,88],[40,130],[44,105],[48,85],[52,120],[56,95],[60,78],[64,110],[68,88],[72,125],[76,100],[80,145],[84,115],[88,170],[92,135],[96,110],[100,155],[104,125],[108,180],[112,145],[116,120],[120,165],[124,130],[128,190],[132,150]];
const bg91 = [[0,35],[3,52],[6,80],[9,120],[12,170],[15,150],[18,220],[21,190],[24,160],[27,230],[30,190],[33,270],[36,220],[39,180],[42,250],[45,210],[48,300],[51,250],[54,200],[57,280],[60,230],[63,330],[66,270],[69,220],[72,300],[75,250],[78,200],[81,280],[84,230],[87,180],[90,250],[93,200],[96,160],[99,220],[102,180],[105,140],[108,200],[111,160],[114,130],[117,180]];
const bg92 = [[0,35],[6,38],[10,32],[14,42],[18,36],[22,48],[26,40],[30,34],[34,46],[38,38],[42,30],[46,40],[50,34],[54,28],[58,38],[62,32],[66,27],[70,36],[74,30],[78,42],[82,35],[86,48],[90,40],[94,56],[98,46],[102,38],[106,52],[110,44],[114,60],[118,50],[122,70],[126,58],[130,48],[134,66],[138,55],[142,75],[146,62],[150,85],[154,70],[158,95]];

const backgroundLines = [bg01,bg02,bg03,bg04,bg05,bg06,bg07,bg08,bg09,bg10,bg11,bg12,bg13,bg14,bg15,bg16,bg17,bg18,bg19,bg20,bg21,bg22,bg23,bg24,bg25,bg26,bg27,bg28,bg29,bg30,bg31,bg32,bg33,bg34,bg35,bg36,bg37,bg38,bg39,bg40,bg41,bg42,bg43,bg44,bg45,bg46,bg47,bg48,bg49,bg50,bg51,bg52,bg53,bg54,bg55,bg56,bg57,bg58,bg59,bg60,bg61,bg62,bg63,bg64,bg65,bg66,bg67,bg68,bg69,bg70,bg71,bg72,bg73,bg74,bg75,bg76,bg77,bg78,bg79,bg80,bg81,bg82,bg83,bg84,bg85,bg86,bg87,bg88,bg89,bg90,bg91,bg92];

const countries = [
  {name:'Brazil', days:brazilDays, cases:brazilCases, rate:brazilRate},
  {name:'Peru', days:peruDays, cases:peruCases, rate:peruRate},
  {name:'Russia', days:russiaDays, cases:russiaCases, rate:russiaRate},
  {name:'Mexico', days:mexicoDays, cases:mexicoCases, rate:mexicoRate},
  {name:'Argentina', days:argentinaDays, cases:argentinaCases, rate:argentinaRate},
  {name:'Colombia', days:colombiaDays, cases:colombiaCases, rate:colombiaRate},
  {name:'South Africa', days:southAfricaDays, cases:southAfricaCases, rate:southAfricaRate},
  {name:'India', days:indiaDays, cases:indiaCases, rate:indiaRate},
  {name:'United States', days:usDays, cases:usCases, rate:usRate}
];

// label placement (day, cases) and colour
const labelNames  = ['India','Brazil','Colombia','Peru','Argentina','Russia','South Africa'];
const labelDays   = [151.2,155.3,149.3,153.3,149.9,151.4,151.4];
const labelCases  = [63200,47200,12250,9400,5750,4650,4010];
const labelColors = ['#f08a40','#999999','#b80d28','#999999','#b80d28','#5873a8','#e8302f'];

// ---------------- build traces ----------------
function colorOf(code){ return rateColors[rateCodes.indexOf(code)]; }
function catAt(breaks, d){ let c = breaks[0][1]; for (const b of breaks){ if (d >= b[0]) c = b[1]; } return c; }

const traces = [];
backgroundLines.forEach(line => {
  const x = line.map(p => p[0]), y = line.map(p => p[1]);
  traces.push({
    x, y, type:'scatter', mode:'lines+markers',
    line:{color:'#d2d2d2', width:1},
    marker:{symbol:'arrow', angleref:'previous', color:'#d2d2d2', size:x.map((_,i)=> i===x.length-1 ? 7 : 0)},
    hoverinfo:'skip'
  });
});

countries.forEach(c => {
  const cats = [];
  for (let i = 1; i < c.days.length; i++) cats.push(catAt(c.rate, (c.days[i-1]+c.days[i])/2));
  const runs = [];
  let i = 0;
  while (i < cats.length){ let j = i; while (j+1 < cats.length && cats[j+1] === cats[i]) j++; runs.push([i,j,cats[i]]); i = j+1; }
  runs.forEach((r,k) => {
    const x = c.days.slice(r[0], r[1]+2), y = c.cases.slice(r[0], r[1]+2);
    const last = k === runs.length-1;
    const col = colorOf(r[2]);
    const t = {x, y, type:'scatter', mode: last ? 'lines+markers' : 'lines',
      line:{color:col, width:3}, hoverinfo:'skip'};
    if (last) t.marker = {symbol:'arrow', angleref:'previous', color:col, size:x.map((_,q)=> q===x.length-1 ? 13 : 0)};
    traces.push(t);
  });
});

// ---------------- layout helpers (pixel -> paper) ----------------
const L = 124, R = 229, T = 11, B = 69, W = 1696, H = 900;
const PW = W - L - R, PH = H - T - B;
const px = fx => (fx - L) / PW;
const py = fy => (H - B - fy) / PH;
const FONT = 'Liberation Sans, Arial, Helvetica, sans-serif';
const halo = '2px 0 1px #fff, -2px 0 1px #fff, 0 2px 1px #fff, 0 -2px 1px #fff, 2px 2px 1px #fff, -2px -2px 1px #fff, 2px -2px 1px #fff, -2px 2px 1px #fff';

const annotations = [];
const shapes = [];

labelNames.forEach((n, i) => {
  annotations.push({x: labelDays[i], y: Math.log10(labelCases[i]), xref:'x', yref:'y', text:n, showarrow:false,
    xanchor:'left', yanchor:'middle', font:{family:FONT, size:24, color:labelColors[i], weight:700, shadow:halo}});
});

annotations.push({x: px(122), y: py(807), xref:'paper', yref:'paper', text:'30 cases', showarrow:false,
  xanchor:'left', yanchor:'middle', font:{family:FONT, size:16, color:'#e34a59', shadow:halo}});

annotations.push({x: px(430), y: py(887), xref:'paper', yref:'paper', text:'Days since confirmed cases first reached 30 per day',
  showarrow:false, xanchor:'left', yanchor:'middle', font:{family:FONT, size:25.5, color:'#222'}});

// legend
annotations.push({x: px(1487), y: py(23), xref:'paper', yref:'paper', text:'Positive rate', showarrow:false,
  xanchor:'left', yanchor:'middle', font:{family:FONT, size:26, color:'#111', weight:700}});
const legendRows = [62,98,134,170,206,242,278,313,349];
rateLabels.forEach((lab, i) => {
  const fy = legendRows[i];
  shapes.push({type:'rect', xref:'paper', yref:'paper', x0:px(1487), x1:px(1507), y0:py(fy+10), y1:py(fy-10),
    fillcolor: rateColors[i], line:{width:0}});
  annotations.push({x: px(1516), y: py(fy), xref:'paper', yref:'paper', text:lab, showarrow:false,
    xanchor:'left', yanchor:'middle', font:{family:FONT, size:24.5, color: i===0 ? '#c6c6c6' : '#222'}});
});
shapes.push({type:'line', xref:'paper', yref:'paper', x0:px(1488), x1:px(1682), y0:py(378), y1:py(378), line:{color:'#cccccc', width:2}});
const dateLeft = ['Jan','21,','2020'], dateRight = ['Aug','19,','2020'], dateRows = [418,443,468];
dateRows.forEach((fy,i) => {
  annotations.push({x: px(1487), y: py(fy), xref:'paper', yref:'paper', text:dateLeft[i], showarrow:false,
    xanchor:'left', yanchor:'middle', font:{family:FONT, size:23.5, color:'#555'}});
  annotations.push({x: px(1633), y: py(fy), xref:'paper', yref:'paper', text:dateRight[i], showarrow:false,
    xanchor:'left', yanchor:'middle', font:{family:FONT, size:23.5, color:'#555'}});
});
shapes.push({type:'line', xref:'paper', yref:'paper', x0:px(1553), x1:px(1624), y0:py(444), y1:py(444), line:{color:'#666', width:1.5}});
[1557,1579,1601].forEach(cx => shapes.push({type:'circle', xref:'paper', yref:'paper', x0:px(cx-3), x1:px(cx+3), y0:py(447), y1:py(441), fillcolor:'#666', line:{width:0}}));
shapes.push({type:'path', xref:'paper', yref:'paper', path:`M ${px(1631)} ${py(444)} L ${px(1620)} ${py(439)} L ${px(1620)} ${py(449)} Z`, fillcolor:'#666', line:{width:0}});

const layout = {
  width: W, height: H,
  margin:{l:L, r:R, t:T, b:B, pad:0},
  paper_bgcolor:'#ffffff', plot_bgcolor:'#ffffff',
  showlegend:false, hovermode:false,
  font:{family:FONT, color:'#666'},
  xaxis:{range:[0,184], tickmode:'array', tickvals:xTickVals, ticks:'', tickfont:{family:FONT, size:32, color:'#6a6a6a'},
    showgrid:true, gridcolor:'#d4d4d4', gridwidth:1.5, griddash:'6px,5px', zeroline:false, showline:false, ticklabelstandoff:-9},
  yaxis:{type:'log', range:[1.387,4.869], tickmode:'array', tickvals:yTickVals, ticktext:yTickText, ticks:'',
    tickfont:{family:FONT, size:32, color:'#6a6a6a'}, showgrid:true, gridcolor:'#d4d4d4', gridwidth:1.5, griddash:'6px,5px',
    zeroline:false, showline:true, linecolor:'#cfcfcf', linewidth:2, ticklabelstandoff:4},
  annotations, shapes
};

Plotly.newPlot('chart', traces, layout, {staticPlot:true, displayModeBar:false});
</script>
</body>
</html>
